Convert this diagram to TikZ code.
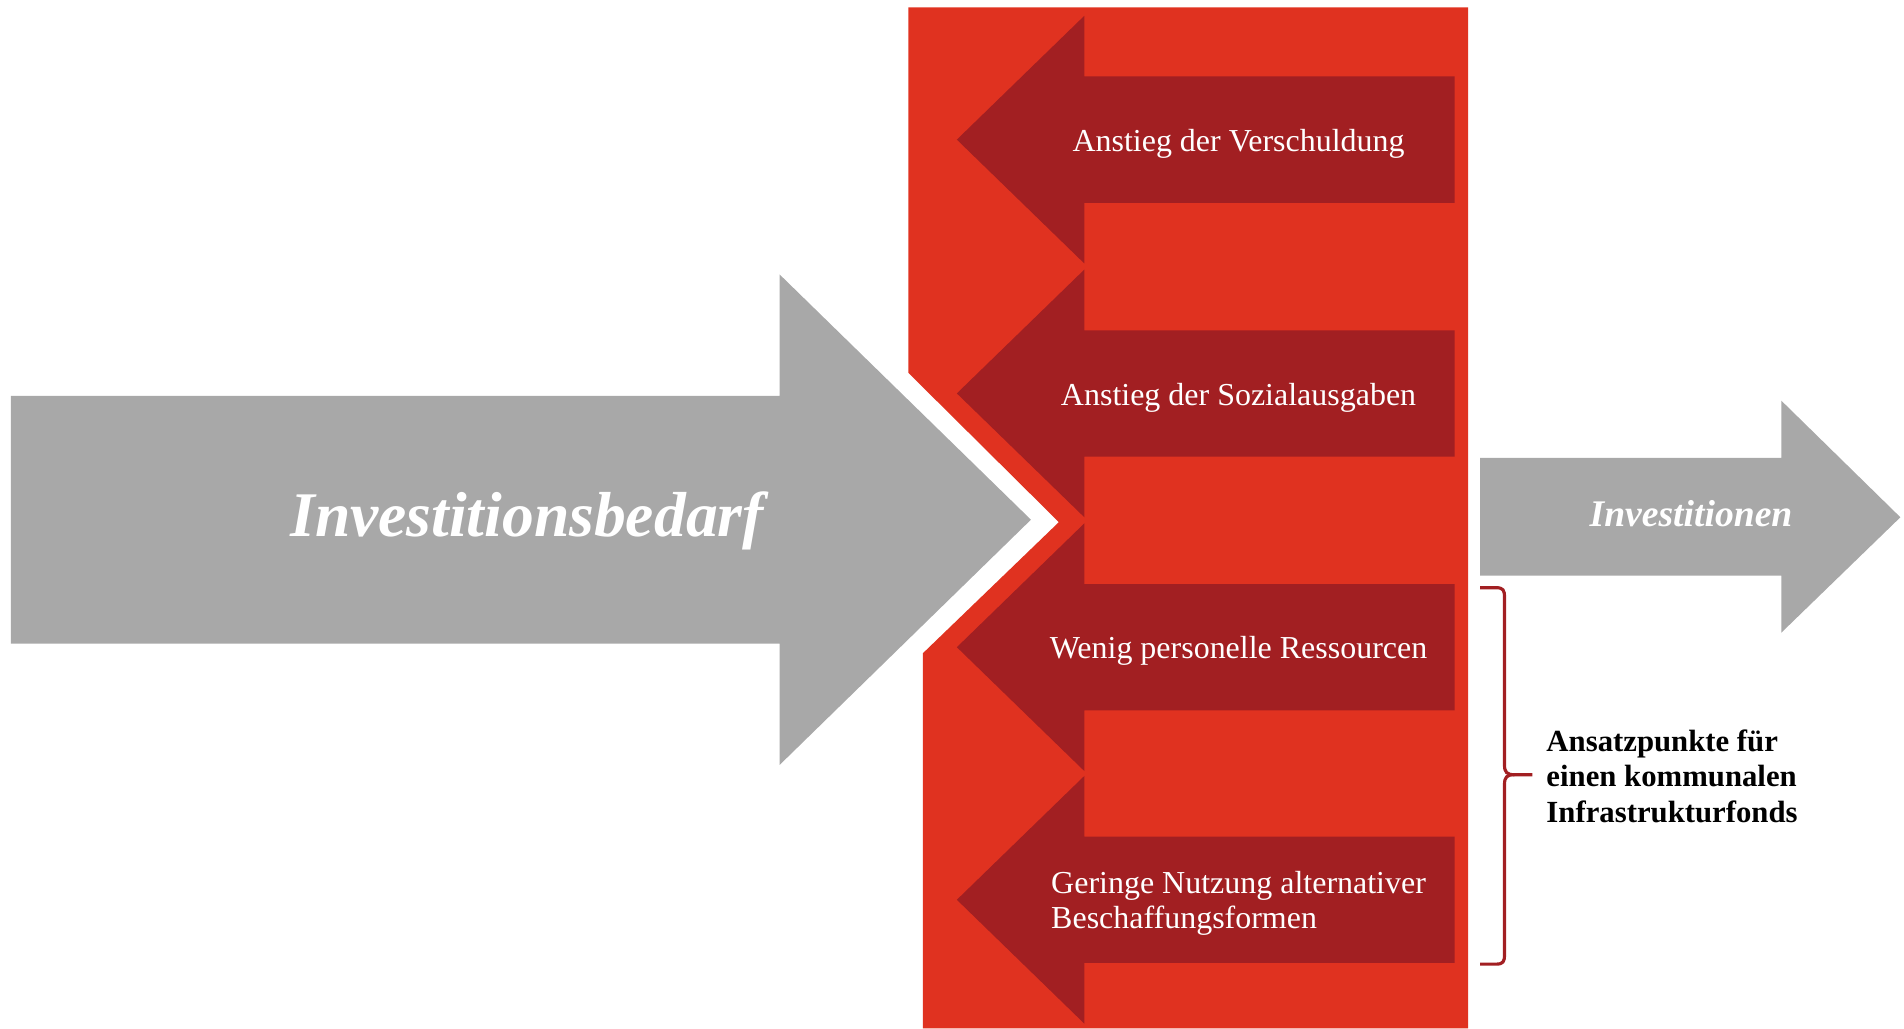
\documentclass[tikz,border=0pt]{standalone}
\usepackage{fontspec}
\setmainfont{Liberation Serif}
\definecolor{panelred}{HTML}{E03220}
\definecolor{darkred}{HTML}{A21F22}
\definecolor{arrowgray}{HTML}{A8A8A8}
\begin{document}
\begin{tikzpicture}[x=0.012143cm, y=-0.012143cm, line join=miter,
		causetext/.style={text=white, inner sep=0pt, align=left, anchor=base, font=\fontsize{9.1}{10}\selectfont},
		flowtext/.style={text=white, inner sep=0pt, anchor=base},
		notetext/.style={text=black, inner sep=0pt, align=left, font=\bfseries\fontsize{8.75}{10}\selectfont}]
	\useasboundingbox (0,0) rectangle (1568,847);
	% red panel with the notch
	\fill[panelred] (748,6) -- (1209,6) -- (1209,847) -- (760,847) -- (760,538) -- (872,430) -- (748,307) -- cycle;
	% Investitionsbedarf
	\fill[arrowgray] (9,326) -- (642,326) -- (642,226) -- (849,428) -- (642,630) -- (642,530) -- (9,530) -- cycle;
	\node[flowtext, font=\bfseries\itshape\fontsize{18.1}{20}\selectfont] (bedarf) at (434,442) {Investitionsbedarf};
	% the four obstacles
	\foreach \ty in {115,324,533,741}
		\fill[darkred] (788,\ty) -- (893,\ty-102) -- (893,\ty-52) -- (1198,\ty-52) -- (1198,\ty+52) -- (893,\ty+52) -- (893,\ty+102) -- cycle;
	\node[causetext] (verschuldung) at (1020,125) {Anstieg der Verschuldung};
	\node[causetext] (sozial) at (1020,333.6) {Anstieg der Sozialausgaben};
	\node[causetext] (personal) at (1020,542.2) {Wenig personelle Ressourcen};
	\node[causetext] (beschaffung) at (1020,764.5) {Geringe Nutzung alternativer\\Beschaffungsformen};
	% Investitionen
	\fill[arrowgray] (1219,377) -- (1467,377) -- (1467,330) -- (1565,426) -- (1467,521) -- (1467,474) -- (1219,474) -- cycle;
	\node[flowtext, font=\bfseries\itshape\fontsize{10.7}{12}\selectfont] (invest) at (1392.6,434) {Investitionen};
	% brace
	\coordinate (bracetop) at (1219,484);
	\coordinate (bracebot) at (1219,794);
	\coordinate (bracetip) at (1262,638);
	\draw[darkred, line width=0.9pt] (bracetop) -- (1232,484) .. controls (1238,484) and (1239,486) .. (1239,492) -- (1239,630) .. controls (1239,636) and (1241,638) .. (1247,638) -- (bracetip);
	\draw[darkred, line width=0.9pt] (bracebot) -- (1232,794) .. controls (1238,794) and (1239,792) .. (1239,786) -- (1239,646) .. controls (1239,640) and (1241,638) .. (1247,638);
	\node[notetext, anchor=base west] (fonds) at (1273,677) {Ansatzpunkte für\\einen kommunalen\\Infrastrukturfonds};
\end{tikzpicture}
\end{document}
